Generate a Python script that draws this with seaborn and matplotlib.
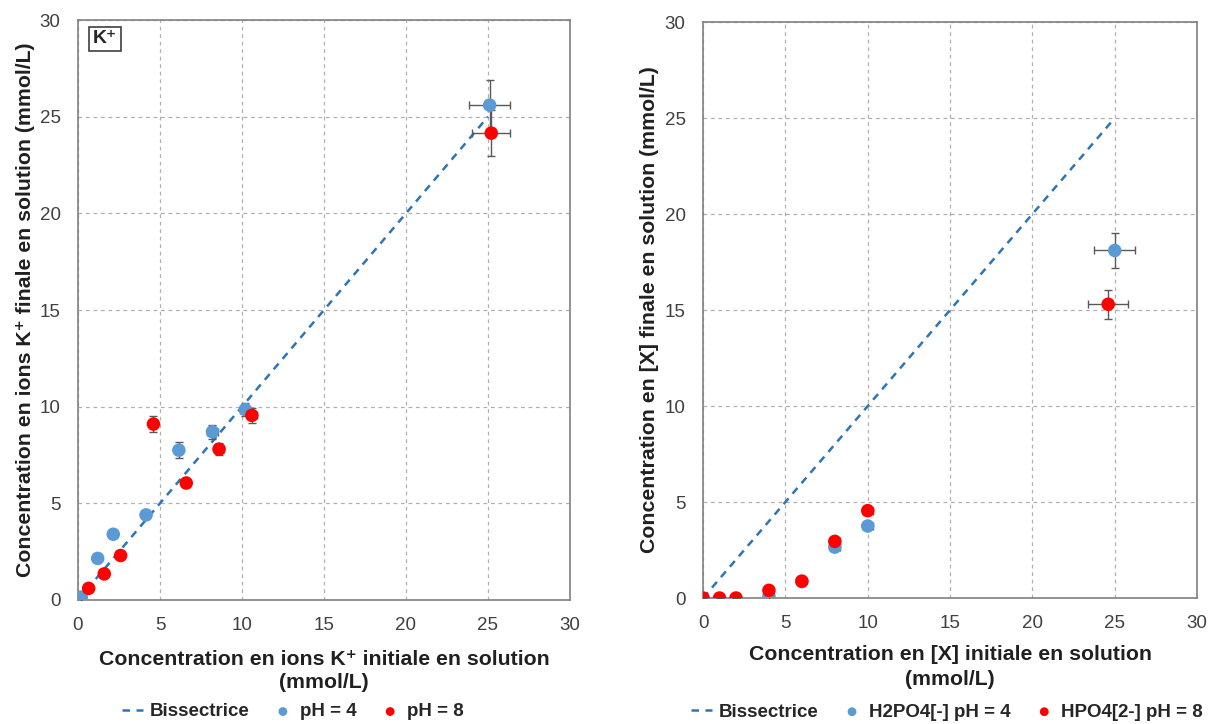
import numpy as np
import pandas as pd
import matplotlib
matplotlib.use("Agg")
import matplotlib.pyplot as plt
import seaborn as sns

# data
k_ph4_x = [0.2, 1.2, 2.15, 4.15, 6.15, 8.2, 10.2, 25.1]
k_ph4_y = [0.15, 2.15, 3.4, 4.4, 7.75, 8.7, 9.85, 25.6]
k_ph4_xerr = [0, 0, 0, 0, 0, 0.35, 0.3, 1.25]
k_ph4_yerr = [0, 0, 0, 0, 0.4, 0.35, 0.35, 1.3]

k_ph8_x = [0.65, 1.6, 2.6, 4.6, 6.6, 8.6, 10.6, 25.2]
k_ph8_y = [0.6, 1.35, 2.3, 9.1, 6.05, 7.8, 9.55, 24.15]
k_ph8_xerr = [0, 0, 0, 0, 0.2, 0.3, 0.3, 1.15]
k_ph8_yerr = [0, 0, 0, 0.4, 0.2, 0.3, 0.4, 1.2]

p_ph4_x = [4, 6, 8, 10, 25]
p_ph4_y = [0.1, 0.85, 2.65, 3.75, 18.1]
p_ph4_xerr = [0, 0, 0.3, 0.3, 1.25]
p_ph4_yerr = [0, 0, 0.15, 0.15, 0.9]

p_ph8_x = [0, 1, 2, 4, 6, 8, 10, 24.6]
p_ph8_y = [0, 0, 0, 0.4, 0.88, 2.95, 4.55, 15.3]
p_ph8_xerr = [0, 0, 0, 0, 0, 0.3, 0.3, 1.2]
p_ph8_yerr = [0, 0, 0, 0, 0, 0.15, 0.15, 0.75]

bis = [0, 25]
ticks = [0, 5, 10, 15, 20, 25, 30]

sns.set_style("white")
plt.rcParams['font.family'] = ['Liberation Sans', 'DejaVu Sans']

blue = "#5B9BD5"
red = "#FF0000"
line_blue = "#2E75B6"
err_col = "#595959"

fig = plt.figure(figsize=(12.13, 7.24), dpi=100)
ax1 = fig.add_axes([0.0643, 0.1713, 0.4056, 0.801])
ax2 = fig.add_axes([0.5796, 0.174, 0.4073, 0.7956])


def draw(ax, x4, y4, xe4, ye4, x8, y8, xe8, ye8, lab4, lab8, leg_x, leg_y):
    sns.lineplot(x=bis, y=bis, ax=ax, color=line_blue, linestyle=(0, (3, 2.5)),
                 linewidth=1.8, label="Bissectrice", zorder=2)
    ax.errorbar(x4, y4, xerr=xe4, yerr=ye4, fmt="none", ecolor=err_col,
                elinewidth=1, capsize=3, zorder=3)
    ax.errorbar(x8, y8, xerr=xe8, yerr=ye8, fmt="none", ecolor=err_col,
                elinewidth=1, capsize=3, zorder=3)
    sns.scatterplot(x=x4, y=y4, ax=ax, color=blue, s=95, edgecolor="none",
                    label=lab4, zorder=4)
    sns.scatterplot(x=x8, y=y8, ax=ax, color=red, s=95, edgecolor="none",
                    label=lab8, zorder=5)
    ax.set_xlim(0, 30)
    ax.set_ylim(0, 30)
    ax.set_xticks(ticks)
    ax.set_yticks(ticks)
    ax.tick_params(labelsize=13.5, length=0, pad=12.5, labelcolor="#404040")
    ax.grid(True, color="#B0B0B0", linestyle=(0, (3, 3)), linewidth=0.9)
    for s in ax.spines.values():
        s.set_color("#808080")
        s.set_linewidth(1.2)
    leg = ax.legend(loc="center", bbox_to_anchor=(leg_x, leg_y), ncol=3,
                    frameon=False, prop={'weight': 'bold', 'size': 13.5},
                    markerscale=0.65, handlelength=1.1, handletextpad=0.35,
                    columnspacing=1.25)
    leg.get_lines()[0].set_dashes([3, 2.6])


draw(ax1, k_ph4_x, k_ph4_y, k_ph4_xerr, k_ph4_yerr,
     k_ph8_x, k_ph8_y, k_ph8_xerr, k_ph8_yerr, "pH = 4", "pH = 8",
     0.437, -0.193)
draw(ax2, p_ph4_x, p_ph4_y, p_ph4_xerr, p_ph4_yerr,
     p_ph8_x, p_ph8_y, p_ph8_xerr, p_ph8_yerr,
     "H2PO4[-] pH = 4", "HPO4[2-] pH = 8", 0.494, -0.198)

lab = dict(fontsize=15.3, fontweight="bold", color="#202020")
ax1.set_xlabel("Concentration en ions K⁺ initiale en solution\n(mmol/L)",
               labelpad=11, linespacing=1.3, **lab)
ax1.set_ylabel("Concentration en ions K⁺ finale en solution (mmol/L)",
               labelpad=3, **lab)
ax2.set_xlabel("Concentration en [X] initiale en solution\n(mmol/L)",
               labelpad=9, linespacing=1.4, **lab)
ax2.set_ylabel("Concentration en [X] finale en solution (mmol/L)",
               labelpad=4, **lab)

ax1.text(0.03, 0.982, "K⁺", transform=ax1.transAxes, fontsize=14,
         fontweight="bold", va="top", ha="left",
         bbox=dict(boxstyle="square,pad=0.2", fc="white", ec="#404040", lw=1.2))

fig.savefig("out.png", dpi=100)
